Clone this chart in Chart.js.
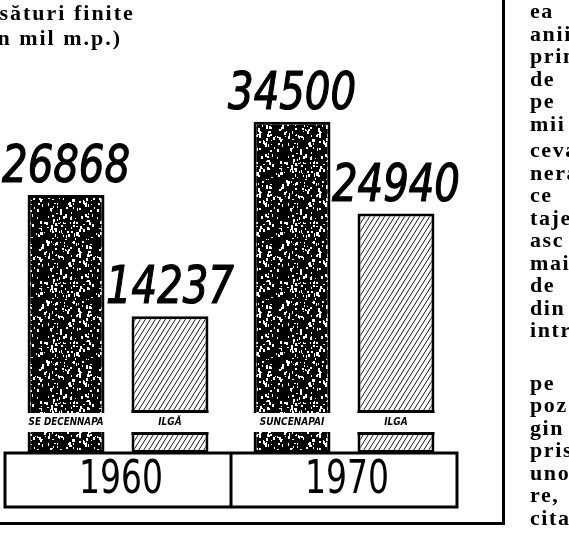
<!DOCTYPE html>
<html lang="ro">
<head>
    <meta charset="UTF-8">
    <title>Țesături finite</title>
    <script src="https://cdn.jsdelivr.net/npm/chart.js"></script>
    <style>
        body {
            margin: 0;
            width: 569px;
            height: 543px;
            overflow: hidden;
            position: relative;
            background-color: #ffffff;
            font-family: "Liberation Serif", "DejaVu Serif", serif;
        }
        #chart {
            position: absolute;
            left: 0;
            top: 0;
        }
        #frame {
            position: absolute;
            left: -10px;
            top: -10px;
            width: 515px;
            height: 535px;
            box-sizing: border-box;
            border: 3px solid #000000;
        }
        #title {
            position: absolute;
            left: 0;
            top: 0;
            width: 220px;
            overflow: hidden;
            font-weight: bold;
            font-size: 22px;
            letter-spacing: 2px;
            line-height: 25px;
            white-space: nowrap;
        }
        #title div {
            margin-left: -29px;
        }
        #title div + div {
            margin-left: -20px;
        }
        #column {
            position: absolute;
            left: 530px;
            top: 0;
            font-weight: bold;
            font-size: 22px;
            line-height: 22.5px;
            letter-spacing: 1.6px;
            white-space: nowrap;
        }
        #column p {
            margin: 0;
        }
    </style>
</head>
<body>
    <canvas id="chart" width="569" height="543"></canvas>
    <div id="frame"></div>
    <div id="title">
        <div>Țesături finite</div>
        <div>(în mil m.p.)</div>
    </div>
    <div id="column">
        <p>ea</p><p>anii</p><p>prin</p><p>de</p><p>pe</p><p>mii</p>
        <p style="margin-top:4px">ceva</p><p>nera</p><p>ce</p><p>taje</p><p>asc</p><p>mai</p><p>de</p><p>din</p><p>intr</p>
        <p style="margin-top:30px">pe</p><p>poz</p><p>gin</p><p>pris</p><p>unor</p><p>re,</p><p>cita</p>
    </div>

    <script>
        const years = ['1960', '1970'];
        const darkValues = [26868, 34500];
        const lightValues = [14237, 24940];
        const darkTags = ['SE DECENNAPA', 'SUNCENAPAI'];
        const lightTags = ['ILGĂ', 'ILGA'];

        function speckle() {
            const c = document.createElement('canvas');
            c.width = 60;
            c.height = 60;
            const g = c.getContext('2d');
            g.fillStyle = '#000000';
            g.fillRect(0, 0, 60, 60);
            g.fillStyle = '#ffffff';
            let s = 11;
            const next = () => (s = (s * 16807) % 2147483647);
            for (let i = 0; i < 210; i++) {
                const x = next() % 60;
                const y = next() % 60;
                const w = 1 + next() % 2;
                const h = 1 + next() % 3;
                g.fillRect(x, y, w, h);
            }
            return g.createPattern(c, 'repeat');
        }

        function hatch() {
            const c = document.createElement('canvas');
            c.width = 5;
            c.height = 8;
            const g = c.getContext('2d');
            g.fillStyle = '#ffffff';
            g.fillRect(0, 0, 5, 8);
            g.strokeStyle = '#1a1a1a';
            g.lineWidth = 1;
            g.beginPath();
            g.moveTo(0, 8); g.lineTo(5, 0);
            g.moveTo(-5, 8); g.lineTo(0, 0);
            g.moveTo(5, 8); g.lineTo(10, 0);
            g.stroke();
            return g.createPattern(c, 'repeat');
        }

        // text squeezed horizontally, like the hand lettering
        function narrowText(ctx, text, x, y, sx, stroke) {
            ctx.save();
            ctx.translate(x, y);
            ctx.scale(sx, 1);
            ctx.fillText(text, 0, 0);
            if (stroke) ctx.strokeText(text, 0, 0);
            ctx.restore();
        }

        const decorPlugin = {
            id: 'decor',
            afterDatasetsDraw(chart) {
                const ctx = chart.ctx;
                const yScale = chart.scales.y;
                const xScale = chart.scales.x;
                const base = yScale.getPixelForValue(0);
                const gapTop = base - 40;
                const gapBottom = base - 21;
                const tags = [darkTags, lightTags];

                ctx.save();
                chart.data.datasets.forEach((ds, di) => {
                    chart.getDatasetMeta(di).data.forEach((bar, i) => {
                        const left = bar.x - bar.width / 2;
                        // white band that cuts the bar
                        ctx.fillStyle = '#ffffff';
                        ctx.fillRect(left - 2, gapTop, bar.width + 4, gapBottom - gapTop);
                        if (di === 1) {
                            ctx.strokeStyle = '#000000';
                            ctx.lineWidth = 3;
                            ctx.beginPath();
                            ctx.moveTo(left, gapTop - 1.5);
                            ctx.lineTo(left + bar.width, gapTop - 1.5);
                            ctx.moveTo(left, gapBottom + 1.5);
                            ctx.lineTo(left + bar.width, gapBottom + 1.5);
                            ctx.stroke();
                        }
                        // small tag
                        ctx.fillStyle = '#000000';
                        ctx.font = 'italic bold 10px "DejaVu Sans Condensed", sans-serif';
                        ctx.textAlign = 'center';
                        ctx.textBaseline = 'middle';
                        const t = tags[di][i];
                        ctx.fillText(t, bar.x, (gapTop + gapBottom) / 2, di === 0 ? bar.width - 2 : 34);

                        // value above the bar
                        ctx.font = 'italic 52px "DejaVu Sans Condensed", sans-serif';
                        ctx.textBaseline = 'alphabetic';
                        ctx.lineWidth = 1.2;
                        ctx.strokeStyle = '#000000';
                        narrowText(ctx, String(ds.data[i]), bar.x, bar.y - 13, 0.86, true);
                    });
                });

                // year box
                const boxBottom = base + 54;
                ctx.strokeStyle = '#000000';
                ctx.lineWidth = 3;
                ctx.strokeRect(chart.chartArea.left, base, chart.chartArea.right - chart.chartArea.left, boxBottom - base);
                const mid = (xScale.getPixelForValue(0) + xScale.getPixelForValue(1)) / 2;
                ctx.beginPath();
                ctx.moveTo(mid, base);
                ctx.lineTo(mid, boxBottom);
                ctx.stroke();
                ctx.font = '47px "DejaVu Sans Condensed", sans-serif';
                ctx.textAlign = 'center';
                ctx.textBaseline = 'middle';
                ctx.fillStyle = '#000000';
                years.forEach((yr, i) => {
                    narrowText(ctx, yr, xScale.getPixelForValue(i) + 3, (base + boxBottom) / 2 + 1, 0.78, false);
                });
                ctx.restore();
            }
        };

        new Chart(document.getElementById('chart'), {
            type: 'bar',
            data: {
                labels: years,
                datasets: [
                    {
                        data: darkValues,
                        backgroundColor: speckle(),
                        borderColor: '#000000',
                        borderWidth: 3,
                        borderSkipped: false
                    },
                    {
                        data: lightValues,
                        backgroundColor: hatch(),
                        borderColor: '#000000',
                        borderWidth: 3,
                        borderSkipped: false
                    }
                ]
            },
            options: {
                responsive: false,
                animation: false,
                layout: {
                    padding: { left: 5, right: 112, top: 69, bottom: 90 }
                },
                categoryPercentage: 0.92,
                barPercentage: 0.74,
                plugins: {
                    legend: { display: false },
                    tooltip: { enabled: false }
                },
                scales: {
                    x: { display: false },
                    y: { display: false, min: 0, max: 40000 }
                }
            },
            plugins: [decorPlugin]
        });
    </script>
</body>
</html>
